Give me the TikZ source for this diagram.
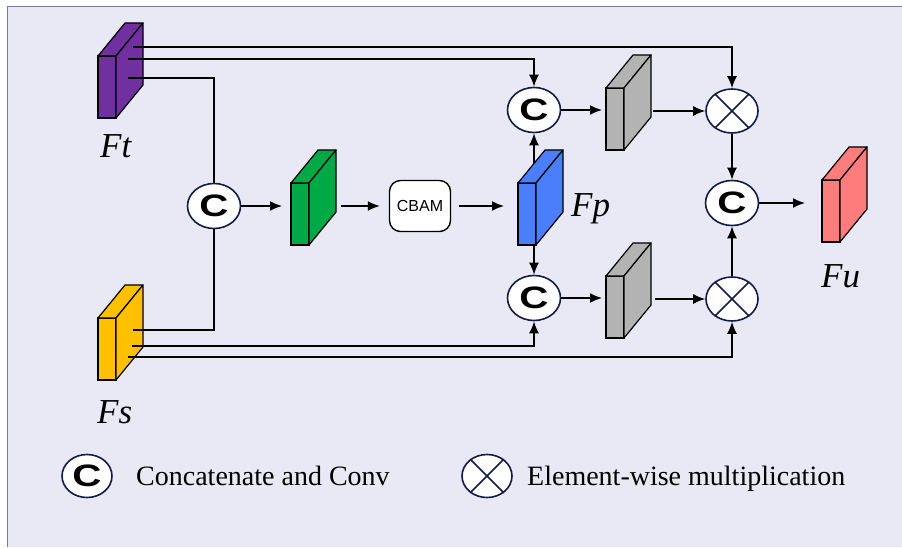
\documentclass[tikz,border=0pt]{standalone}
\usepackage{fontspec}
\setmainfont{Liberation Serif}
\newfontfamily\labelsans{Liberation Sans}
\usetikzlibrary{arrows.meta, shapes.geometric, calc, backgrounds}
\definecolor{bgA}{HTML}{E9E9F5}
\definecolor{frameB}{HTML}{767C9E}
\definecolor{ringB}{HTML}{141A48}
\definecolor{purpleA}{HTML}{7030A0}
\definecolor{yellowA}{HTML}{FFC000}
\definecolor{greenA}{HTML}{00A846}
\definecolor{blueA}{HTML}{4A7EFA}
\definecolor{grayA}{HTML}{B3B3B3}
\definecolor{redA}{HTML}{FF7C7C}
\tikzset{
  cube/.style={draw=black, line width=1.2pt, minimum width=18pt, minimum height=62pt, inner sep=0pt, outer sep=0pt},
  cubeedge/.style={draw=black, line width=1.2pt, line join=round},
  catnode/.style={ellipse, draw=ringB, line width=1.6pt, fill=white, minimum width=53pt, minimum height=45pt, inner sep=0pt, font=\labelsans\bfseries\fontsize{31}{31}\selectfont},
  mulnode/.style={ellipse, draw=ringB, line width=1.6pt, fill=white, minimum width=52pt, minimum height=44pt, inner sep=0pt},
  cbambox/.style={rounded corners=11pt, draw=black, line width=1.4pt, fill=white, minimum width=61pt, minimum height=51pt, inner sep=0pt, font=\labelsans\fontsize{16}{16}\selectfont},
  featlabel/.style={font=\itshape\fontsize{35}{35}\selectfont, anchor=base west, inner sep=0pt},
  legendtext/.style={font=\fontsize{28}{28}\selectfont, anchor=base west, inner sep=0pt},
  arrow/.style={-{Latex[length=12pt,width=10pt]}, line width=1.6pt},
  wire/.style={line width=1.6pt}
}
% feature map: front face node + top and side faces
\newcommand{\featcube}[3]{%
  \node[cube, fill=#3] (#1) at (#2) {};
  \filldraw[cubeedge, fill=#3] (#1.north west) -- ++(27,33) -- ++(18,0) -- (#1.north east) -- cycle;
  \filldraw[cubeedge, fill=#3] (#1.north east) -- ++(27,33) -- ++(0,-62) -- (#1.south east) -- cycle;
}
\newcommand{\mulcross}[1]{\draw[line width=1.6pt, draw=ringB] (#1.45) -- (#1.225) (#1.135) -- (#1.315);}
\newcommand{\catC}{\scalebox{1.3}[1]{C}}

\begin{document}
\begin{tikzpicture}[x=1pt,y=1pt]
\useasboundingbox (0,0) rectangle (902,547);

% feature maps
\featcube{ft}{107,460}{purpleA}
\featcube{fs}{107,198}{yellowA}
\featcube{fg}{300,333}{greenA}
\featcube{fp}{527,333}{blueA}
\featcube{gt}{615,428}{grayA}
\featcube{gb}{615,240}{grayA}
\featcube{fu}{831,336}{redA}

\node[featlabel] (ftlab) at (100,389) {Ft};
\node[featlabel] (fslab) at (97,124) {Fs};
\node[featlabel] (fplab) at (571,330) {Fp};
\node[featlabel] (fulab) at (821,260) {Fu};

% operators
\node[catnode] (cat0) at (214,341) {\catC};
\node[catnode] (catT) at (534,437) {\catC};
\node[catnode] (catB) at (534,249) {\catC};
\node[catnode] (catR) at (732,344) {\catC};
\node[mulnode] (mulT) at (732,436) {}; \mulcross{mulT}
\node[mulnode] (mulB) at (732,248) {}; \mulcross{mulB}
\node[cbambox] (cbam) at (420,341) {CBAM};

% wire starts on the cubes
\coordinate (fta) at ([shift={(26,40)}]ft.center);
\coordinate (ftb) at ([shift={(21,28)}]ft.center);
\coordinate (ftc) at ([shift={(21,9)}]ft.center);
\coordinate (fsa) at ([shift={(26,19)}]fs.center);
\coordinate (fsb) at ([shift={(25,3)}]fs.center);
\coordinate (fsc) at ([shift={(21,-8)}]fs.center);

\draw[arrow] (fta) -| (mulT.north);
\draw[arrow] (ftb) -| (catT.north);
\draw[wire] (ftc) -| (cat0.north);
\draw[wire] (fsa) -| (cat0.south);
\draw[arrow] (fsb) -| (catB.south);
\draw[arrow] (fsc) -| (mulB.south);

\draw[arrow, shorten >=9pt] (cat0.east) -- (cat0.east -| fg.west);
\draw[arrow, shorten <=32pt, shorten >=9pt] (fg.east |- cbam.west) -- (cbam.west);
\draw[arrow, shorten <=8pt, shorten >=14pt] (cbam.east) -- (cbam.east -| fp.west);
\draw[arrow, shorten >=4pt] (catT.east) -- (catT.east -| gt.west);
\draw[arrow, shorten <=29pt] (gt.east |- mulT.west) -- (mulT.west);
\draw[arrow, shorten >=4pt] (catB.east) -- (catB.east -| gb.west);
\draw[arrow, shorten <=31pt] (gb.east |- mulB.west) -- (mulB.west);
\draw[arrow] (mulT.south) -- (catR.north);
\draw[arrow] (mulB.north) -- (catR.south);
\draw[arrow, shorten >=17pt] (catR.east) -- (catR.east -| fu.west);

% legend
\node[catnode, minimum width=50pt, minimum height=43pt] (legC) at (87,71) {\catC};
\node[legendtext] (legCtext) at (136,62) {Concatenate and Conv};
\node[mulnode, minimum width=50pt, minimum height=43pt] (legX) at (487,71) {}; \mulcross{legX}
\node[legendtext] (legXtext) at (527,62) {Element-wise multiplication};

\begin{pgfonlayer}{background}
\fill[bgA] (7,0) rectangle (902,540.5);
\draw[frameB, line width=1pt] (7,0) -- (7,540.5) -- (902,540.5);
\draw[arrow] (catT.south |- fp.center) -- (catT.south);
\draw[arrow] (catB.north |- fp.center) -- (catB.north);
\end{pgfonlayer}

\end{tikzpicture}
\end{document}
